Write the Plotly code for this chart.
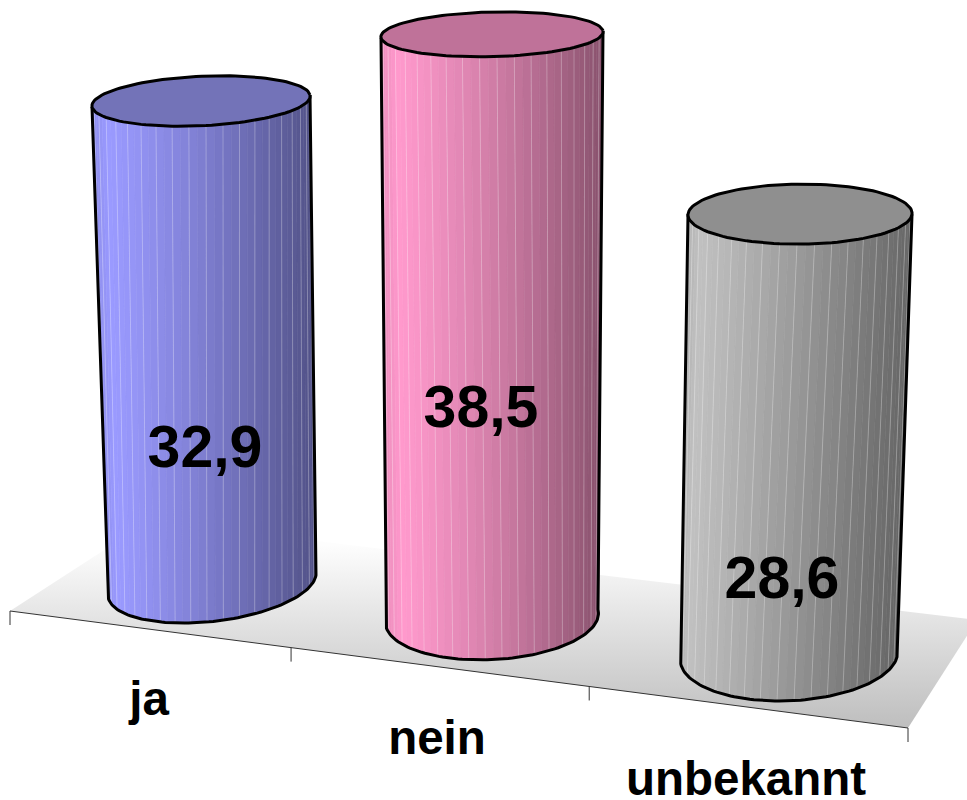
import numpy as np
import plotly.graph_objects as go

# ---- data ----
categories = ["ja", "nein", "unbekannt"]
values = [32.9, 38.5, 28.6]
side_colors = [(154, 154, 255), (255, 153, 204), (192, 192, 192)]
top_colors = ["#7373B8", "#BF7299", "#8F8F8F"]

# ---- projection of the 3D scene, in pixels of the 967x800 picture ----
base_center = [(212, 584), (492, 618), (789, 656)]
base_a = [(104, -9), (106, -8.5), (108, 1)]
base_b = [(-5, 38), (10, 41), (-12, 45)]
top_a = [(109, -6), (111, -3.5), (112, 0)]
top_b = [(5, 24.5), (5, 22.2), (-3, 30)]
height_per_unit = [(-0.334, -14.68), (0.0, -15.16), (0.385, -15.45)]
value_label_pos = [(205, 452), (481, 412), (782, 583)]
cat_label_pos = [(149, 703), (437, 742), (746, 783)]
axis_start, axis_end = (10, 611), (908, 728)
tick_fractions = [0.0, 0.313, 0.645, 1.0]
tick_len = 14
floor_x = [10, 149, 977, 908, 10]
floor_y = [611, 521, 620, 728, 611]

FONT = "Liberation Sans"
N = 40
fig = go.Figure()

# floor
fig.add_trace(go.Scatter(
    x=floor_x, y=floor_y, mode="lines", line=dict(width=0), fill="toself",
    fillgradient=dict(type="vertical", start=545, stop=728,
                      colorscale=[[0, "#FDFDFD"], [1, "#BEBEBE"]]),
    hoverinfo="skip", showlegend=False))

# axis line and ticks
ax_x, ax_y = [axis_start[0], axis_end[0]], [axis_start[1], axis_end[1]]
for f in tick_fractions:
    tx = axis_start[0] + f * (axis_end[0] - axis_start[0])
    ty = axis_start[1] + f * (axis_end[1] - axis_start[1])
    ax_x += [None, tx, tx]
    ax_y += [None, ty, ty + tick_len]
fig.add_trace(go.Scatter(x=ax_x, y=ax_y, mode="lines", line=dict(color="#333333", width=1),
                         hoverinfo="skip", showlegend=False))


def ellipse(center, a, b, t):
    return (center[0] + a[0] * np.cos(t) + b[0] * np.sin(t),
            center[1] + a[1] * np.cos(t) + b[1] * np.sin(t))


for i, v in enumerate(values):
    c0 = base_center[i]
    c1 = (c0[0] + v * height_per_unit[i][0], c0[1] + v * height_per_unit[i][1])
    ts = np.linspace(np.pi, 0, N + 1)
    hair_x, hair_y = [], []
    for k in range(N):
        sub = np.linspace(ts[k], ts[k + 1], 4)
        xb, yb = ellipse(c0, base_a[i], base_b[i], sub)
        xt, yt = ellipse(c1, top_a[i], top_b[i], sub[::-1])
        mid = (k + 0.5) / N
        pos = (1 - np.cos(mid * np.pi)) / 2
        shade = 1.0 - 0.5 * max(pos - 0.06, 0) ** 1.15 if pos > 0.06 else 0.93 + 0.07 * pos / 0.06
        r, g, b = [int(round(ch * shade)) for ch in side_colors[i]]
        col = f"rgb({r},{g},{b})"
        fig.add_trace(go.Scatter(
            x=list(xb) + list(xt) + [xb[0]], y=list(yb) + list(yt) + [yb[0]],
            mode="lines", line=dict(color=col, width=0.6), fill="toself", fillcolor=col,
            hoverinfo="skip", showlegend=False))
        if k % 2 == 0 and k > 0:
            hx0, hy0 = ellipse(c0, base_a[i], base_b[i], ts[k])
            hx1, hy1 = ellipse(c1, top_a[i], top_b[i], ts[k])
            hair_x += [hx0, hx1, None]
            hair_y += [hy0, hy1, None]
    fig.add_trace(go.Scatter(x=hair_x, y=hair_y, mode="lines",
                             line=dict(color="rgba(255,255,255,0.28)", width=1),
                             hoverinfo="skip", showlegend=False))
    # outline of the body
    tt = np.linspace(np.pi, 0, 80)
    bx, by = ellipse(c0, base_a[i], base_b[i], tt)
    lx0, ly0 = ellipse(c1, top_a[i], top_b[i], np.pi)
    rx0, ry0 = ellipse(c1, top_a[i], top_b[i], 0.0)
    fig.add_trace(go.Scatter(
        x=[lx0] + list(bx) + [rx0], y=[ly0] + list(by) + [ry0], mode="lines",
        line=dict(color="black", width=3), hoverinfo="skip", showlegend=False))
    # top face
    tt = np.linspace(0, 2 * np.pi, 121)
    ex, ey = ellipse(c1, top_a[i], top_b[i], tt)
    fig.add_trace(go.Scatter(
        x=ex, y=ey, mode="lines", fill="toself", fillcolor=top_colors[i],
        line=dict(color="black", width=3), hoverinfo="skip", showlegend=False))

# value labels
fig.add_trace(go.Scatter(
    x=[p[0] for p in value_label_pos], y=[p[1] for p in value_label_pos], mode="text",
    text=[f"<b>{v:.1f}</b>".replace(".", ",") for v in values],
    textposition="middle center", textfont=dict(family=FONT, size=59, color="black"),
    hoverinfo="skip", showlegend=False))
# category labels
fig.add_trace(go.Scatter(
    x=[p[0] for p in cat_label_pos], y=[p[1] for p in cat_label_pos], mode="text",
    text=[f"<b>{c}</b>" for c in categories],
    textposition="middle center", textfont=dict(family=FONT, size=47.5, color="black"),
    hoverinfo="skip", showlegend=False))

fig.update_layout(
    width=967, height=800, margin=dict(l=0, r=0, t=0, b=0),
    paper_bgcolor="white", plot_bgcolor="white", showlegend=False,
    xaxis=dict(range=[0, 967], visible=False, fixedrange=True),
    yaxis=dict(range=[800, 0], visible=False, fixedrange=True),
)
fig.write_html("out.html", config={"displayModeBar": False},
               post_script="document.body.style.margin='0';document.documentElement.style.overflow='hidden';")
